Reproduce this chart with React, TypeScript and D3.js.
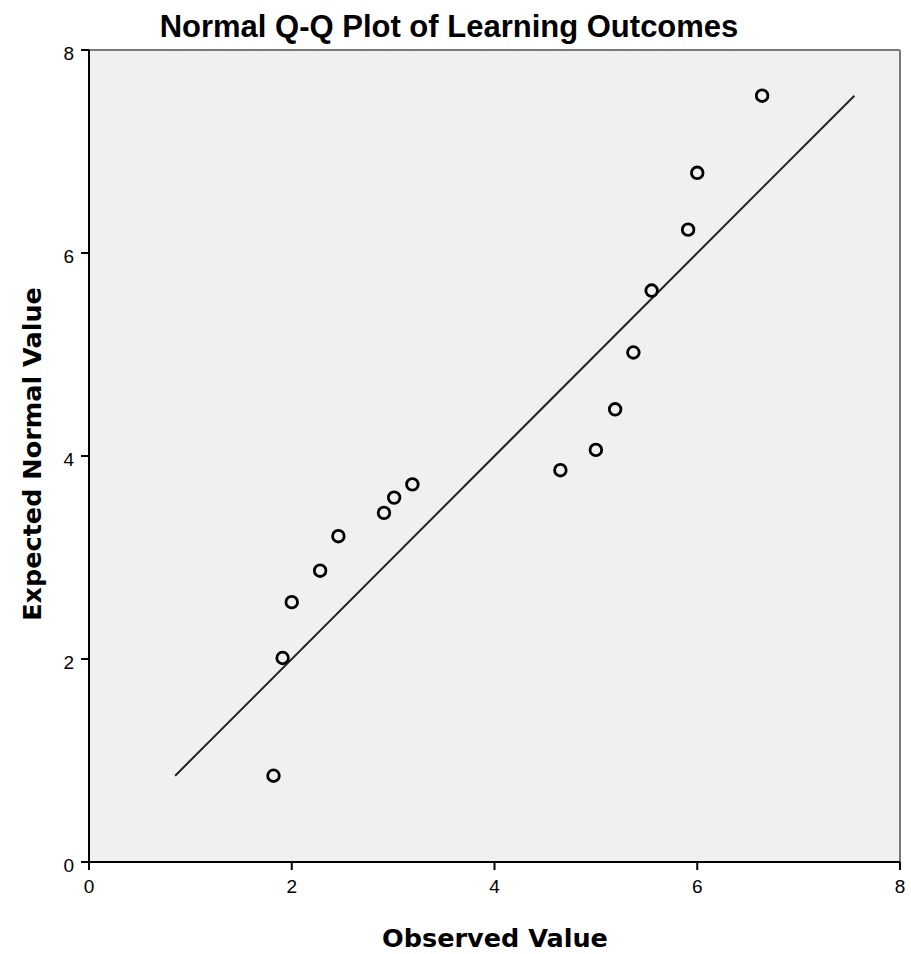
import * as d3 from "d3";
import { useMemo } from "react";

const observed = [1.82, 1.91, 2.0, 2.28, 2.46, 2.91, 3.01, 3.19, 4.65, 5.0, 5.19, 5.37, 5.55, 5.91, 6.0, 6.64];
const expected = [0.85, 2.01, 2.56, 2.87, 3.21, 3.44, 3.59, 3.72, 3.86, 4.06, 4.46, 5.02, 5.63, 6.23, 6.79, 7.55];
const xTicks = [0, 2, 4, 6, 8];
const yTicks = [0, 2, 4, 6, 8];
const refLine = [0.85, 7.55];

const dims = { width: 911, height: 954, left: 89, right: 900, top: 50, bottom: 862 };
const font = "'Liberation Sans', Arial, sans-serif";
const labelFont = "'DejaVu Sans', Verdana, sans-serif";

const App = () => {
  const xScale = useMemo(() => d3.scaleLinear().domain([0, 8]).range([dims.left, dims.right]), []);
  const yScale = useMemo(() => d3.scaleLinear().domain([0, 8]).range([dims.bottom, dims.top]), []);

  const line = d3.line<number>().x(d => xScale(d)).y(d => yScale(d));
  const points = observed.map((x, i) => ({ x, y: expected[i] }));

  return (
    <svg width={dims.width} height={dims.height} style={{ position: "absolute", left: 0, top: 0, background: "#fff" }}>
      <rect x={dims.left} y={dims.top} width={dims.right - dims.left} height={dims.bottom - dims.top} fill="#f0f0f0" />
      {/* frame */}
      <line x1={dims.left} x2={dims.right} y1={dims.top} y2={dims.top} stroke="#7a7a7a" strokeWidth={2} />
      <line x1={dims.right} x2={dims.right} y1={dims.top} y2={dims.bottom} stroke="#7a7a7a" strokeWidth={2} />
      <line x1={dims.left} x2={dims.left} y1={dims.top} y2={dims.bottom + 8} stroke="#000" strokeWidth={2} />
      <line x1={dims.left - 8} x2={dims.right} y1={dims.bottom} y2={dims.bottom} stroke="#000" strokeWidth={2} />

      {yTicks.map(t => (
        <g key={"y" + t}>
          <line x1={dims.left - 8} x2={dims.left} y1={yScale(t)} y2={yScale(t)} stroke="#000" strokeWidth={2} />
          <text x={dims.left - 15} y={yScale(t) + 10} textAnchor="end" fontFamily={font} fontSize={19}>{t}</text>
        </g>
      ))}
      {xTicks.map(t => (
        <g key={"x" + t}>
          <line x1={xScale(t)} x2={xScale(t)} y1={dims.bottom} y2={dims.bottom + 8} stroke="#000" strokeWidth={2} />
          <text x={xScale(t)} y={dims.bottom + 31} textAnchor="middle" fontFamily={font} fontSize={19}>{t}</text>
        </g>
      ))}

      <path d={line(refLine) ?? ""} stroke="#222" strokeWidth={2} fill="none" />

      {points.map((d, i) => (
        <circle key={i} cx={xScale(d.x)} cy={yScale(d.y)} r={5.8} fill="none" stroke="#000" strokeWidth={2.8} />
      ))}

      <text x={449} y={37} textAnchor="middle" fontFamily={font} fontWeight="bold" fontSize={31}>
        Normal Q-Q Plot of Learning Outcomes
      </text>
      <text x={495} y={947} textAnchor="middle" fontFamily={labelFont} fontWeight="bold" fontSize={25.5}>
        Observed Value
      </text>
      <text transform={`translate(41, 454) rotate(-90)`} textAnchor="middle" fontFamily={labelFont} fontWeight="bold" fontSize={25.5}>
        Expected Normal Value
      </text>
    </svg>
  );
};

export default App;
